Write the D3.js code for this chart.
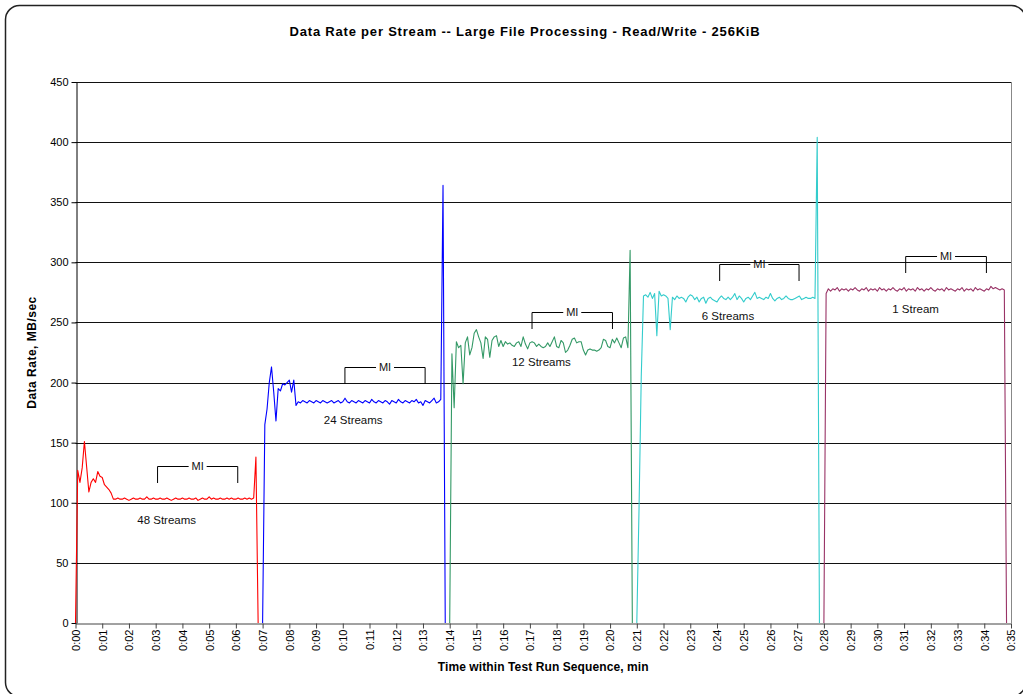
<!DOCTYPE html>
<html>
<head>
<meta charset="utf-8">
<script src="https://cdn.jsdelivr.net/npm/d3@7"></script>
<style>
  body { margin: 0; background: #fff; }
  text { font-family: Arial, "Liberation Sans", sans-serif; }
</style>
</head>
<body>
<div id="chart"></div>
<script>
// one sample every 5 seconds, each run starts at its own minute offset
var sampleStep = 5;
var seriesNames = ["48 Streams", "24 Streams", "12 Streams", "6 Streams", "1 Stream"];
var seriesStart = [0, 7, 14, 21, 28];
var seriesColors = ["#ff0000", "#0000ff", "#339966", "#33cccc", "#993366"];

var rate48 = [0,127,117,129,151,130,109,117,120,117,126,122,121,115,113,111,108,103,
  103,104,103,103,104,103,102,103,104,103,
  103,104,103,103,105,103,103,104,103,103,
  104,103,103,104,103,102,103,104,103,103,
  104,103,103,104,103,103,104,102,103,104,
  103,103,105,103,104,103,103,104,103,103,
  104,103,104,103,103,104,103,103,104,103,
  104,103,104,138,0];

var rate24 = [0,165,178,200,213,192,168,195,193,199,198,200,202,192,202,181,
  184,183,185,184,183,185,184,183,185,184,
  183,185,184,183,184,185,183,184,185,183,
  184,187,184,183,185,184,183,185,184,183,
  185,184,183,186,184,183,185,184,183,185,
  184,182,185,184,183,186,184,183,185,184,
  183,185,184,186,183,184,181,185,184,183,
  185,187,183,184,186,364,0];

var rate12 = [0,224,179,234,229,231,199,233,238,223,229,241,244,238,233,220,238,236,221,235,
  238,239,230,235,230,234,232,233,231,230,
  233,234,230,238,232,228,233,234,233,230,
  232,230,229,230,233,230,234,238,230,229,
  235,233,225,227,231,236,237,233,234,234,
  227,223,227,228,227,227,226,227,229,236,
  235,230,229,236,233,237,233,229,237,238,
  229,310,0];

var rate6 = [0,95,205,272,273,271,275,270,274,239,276,272,273,272,270,244,271,269,272,270,
  271,270,267,271,273,272,269,271,267,270,
  271,266,270,271,269,268,267,270,272,270,
  269,271,269,271,274,269,272,270,267,270,
  271,269,272,275,270,271,270,269,271,270,
  274,270,268,270,271,269,270,272,270,269,
  269,270,271,272,269,270,271,270,270,271,
  270,404,0];

var rate1 = [0,274,
  278,276,278,277,279,276,278,277,278,276,
  278,277,279,277,276,278,277,279,276,278,
  277,278,276,279,277,278,276,278,277,279,
  277,276,278,277,279,276,278,277,278,276,
  279,277,278,276,278,277,279,277,276,278,
  277,278,276,279,277,278,277,276,278,277,
  279,276,278,277,278,276,279,277,278,277,
  276,278,277,280,278,279,278,277,278,
  277,0];

var seriesValues = [rate48, rate24, rate12, rate6, rate1];

// measurement interval brackets (minutes) and their level (MB/sec)
var miStart = [3.07, 10.08, 17.08, 24.1, 31.06];
var miEnd = [6.07, 13.08, 20.09, 27.07, 34.08];
var miLevel = [131, 213, 259, 299, 305];

// where each run label sits (minutes, MB/sec)
var labelTime = [3.41, 10.39, 17.43, 24.41, 31.43];
var labelRate = [86, 169, 217, 255, 261];

var yTicks = [0, 50, 100, 150, 200, 250, 300, 350, 400, 450];
var xTicks = d3.range(0, 36);

var W = 1023, H = 694;
var margin = { top: 82, right: 12, bottom: 71, left: 75.5 };

var svg = d3.select("#chart").append("svg")
  .attr("width", W)
  .attr("height", H);

// chart frame, runs slightly past the right and bottom edges
svg.append("rect")
  .attr("x", 5.5).attr("y", 5.5)
  .attr("width", 1020).attr("height", 691)
  .attr("rx", 14)
  .attr("fill", "#fff")
  .attr("stroke", "#222")
  .attr("stroke-width", 1.5);

var x = d3.scaleLinear().domain([0, 35]).range([margin.left, W - margin.right]);
var y = d3.scaleLinear().domain([0, 450]).range([H - margin.bottom, margin.top]);

// gridlines
svg.append("g").selectAll("line")
  .data(yTicks.slice(1))
  .enter().append("line")
  .attr("x1", x(0)).attr("x2", x(35))
  .attr("y1", function (d) { return Math.round(y(d)) + 0.5; })
  .attr("y2", function (d) { return Math.round(y(d)) + 0.5; })
  .attr("stroke", "#111")
  .attr("stroke-width", 1);

// right edge of plot area
svg.append("line")
  .attr("x1", Math.round(x(35)) + 0.5).attr("x2", Math.round(x(35)) + 0.5)
  .attr("y1", y(450)).attr("y2", y(0))
  .attr("stroke", "#888");

var yAxis = svg.append("g")
  .attr("transform", "translate(" + Math.round(x(0)) + ".5,0)")
  .call(d3.axisLeft(y).tickValues(yTicks).tickSize(5).tickSizeOuter(0));
yAxis.selectAll("text").attr("font-size", 11).attr("fill", "#000").attr("x", -8);
yAxis.selectAll("line").attr("stroke", "#000");
yAxis.select(".domain").attr("stroke", "#000");
yAxis.attr("font-family", null);

var xAxis = svg.append("g")
  .attr("transform", "translate(0," + (Math.round(y(0)) + 0.5) + ")")
  .call(d3.axisBottom(x).tickValues(xTicks).tickSize(5).tickSizeOuter(0)
    .tickFormat(function (d) { return "0:" + (d < 10 ? "0" + d : d); }));
xAxis.select(".domain").attr("stroke", "#444");
xAxis.selectAll("line").attr("stroke", "#444");
xAxis.selectAll("text")
  .attr("font-size", 11)
  .attr("fill", "#000")
  .attr("transform", "rotate(-90)")
  .attr("text-anchor", "end")
  .attr("x", -6)
  .attr("y", 0)
  .attr("dy", "0.35em");
xAxis.attr("font-family", null);

// series lines
var line = d3.line()
  .x(function (d) { return x(d.t); })
  .y(function (d) { return y(d.v); });

seriesValues.forEach(function (vals, k) {
  var pts = vals.map(function (v, i) {
    return { t: seriesStart[k] + i * sampleStep / 60, v: v };
  });
  svg.append("path")
    .datum(pts)
    .attr("fill", "none")
    .attr("stroke", seriesColors[k])
    .attr("stroke-width", 1.1)
    .attr("stroke-linejoin", "round")
    .attr("d", line);
});

// MI brackets
var tickLen = 16.5;
miStart.forEach(function (s, k) {
  var x1 = x(s), x2 = x(miEnd[k]), yy = Math.round(y(miLevel[k])) + 0.5;
  var mid = (x1 + x2) / 2;
  var g = svg.append("g").attr("stroke", "#000").attr("stroke-width", 1).attr("fill", "none");
  g.append("path")
    .attr("d", "M" + x1 + "," + (yy + tickLen) + "V" + yy + "H" + (mid - 9));
  g.append("path")
    .attr("d", "M" + (mid + 9) + "," + yy + "H" + x2 + "V" + (yy + tickLen));
  svg.append("text")
    .attr("x", mid).attr("y", yy)
    .attr("dy", "0.35em")
    .attr("text-anchor", "middle")
    .attr("font-size", 11)
    .attr("fill", "#111")
    .text("MI");
});

// run labels
seriesNames.forEach(function (name, k) {
  svg.append("text")
    .attr("x", x(labelTime[k]))
    .attr("y", y(labelRate[k]))
    .attr("dy", "0.35em")
    .attr("text-anchor", "middle")
    .attr("font-size", 11.5)
    .attr("fill", "#111")
    .text(name);
});

// titles
svg.append("text")
  .attr("x", 525).attr("y", 36)
  .attr("text-anchor", "middle")
  .attr("font-size", 13)
  .attr("letter-spacing", 0.8)
  .attr("font-weight", "bold")
  .text("Data Rate per Stream -- Large File Processing - Read/Write - 256KiB");

svg.append("text")
  .attr("x", (x(0) + x(35)) / 2).attr("y", 671)
  .attr("text-anchor", "middle")
  .attr("font-size", 12)
  .attr("letter-spacing", 0.1)
  .attr("font-weight", "bold")
  .text("Time within Test Run Sequence, min");

svg.append("text")
  .attr("transform", "translate(36," + y(225) + ") rotate(-90)")
  .attr("text-anchor", "middle")
  .attr("font-size", 12)
  .attr("letter-spacing", 0.5)
  .attr("font-weight", "bold")
  .text("Data Rate, MB/sec");
</script>
</body>
</html>
